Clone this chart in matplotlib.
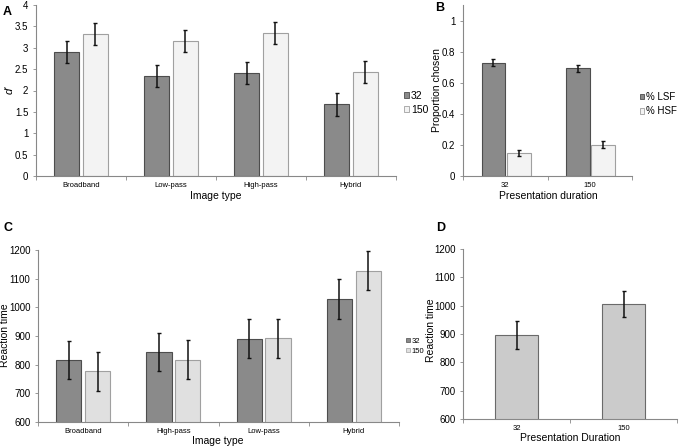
import matplotlib
matplotlib.use("Agg")
import matplotlib.pyplot as plt
from matplotlib.patches import Rectangle
import numpy as np

plt.rcParams['font.family'] = ['Liberation Sans', 'DejaVu Sans']

# Panel A data
a_categories = ["Broadband", "Low-pass", "High-pass", "Hybrid"]
a_32 = [2.90, 2.34, 2.41, 1.68]
a_32_err = [0.26, 0.26, 0.26, 0.27]
a_150 = [3.32, 3.15, 3.35, 2.43]
a_150_err = [0.26, 0.26, 0.26, 0.26]
a_yticks = [0, 0.5, 1, 1.5, 2, 2.5, 3, 3.5, 4]
a_yticklabels = ["0", "0.5", "1", "1.5", "2", "2.5", "3", "3.5", "4"]

# Panel B data
b_categories = ["32", "150"]
b_lsf = [0.729, 0.692]
b_lsf_err = [0.021, 0.021]
b_hsf = [0.148, 0.202]
b_hsf_err = [0.021, 0.023]
b_yticks = [0, 0.2, 0.4, 0.6, 0.8, 1]
b_yticklabels = ["0", "0.2", "0.4", "0.6", "0.8", "1"]

# Panel C data
c_categories = ["Broadband", "High-pass", "Low-pass", "Hybrid"]
c_32 = [817, 845, 891, 1028]
c_32_err = [67, 67, 68, 70]
c_150 = [777, 818, 892, 1128]
c_150_err = [68, 69, 69, 69]
c_yticks = [600, 700, 800, 900, 1000, 1100, 1200]

# Panel D data
d_categories = ["32", "150"]
d_rt = [896, 1006]
d_rt_err = [50, 47]

DARK = "#8a8a8a"
DARK_EDGE = "#4d4d4d"
LIGHT_A = "#f3f3f3"
LIGHT_EDGE = "#a0a0a0"
LIGHT_C = "#e0e0e0"
D_FILL = "#cbcbcb"
D_EDGE = "#6a6a6a"

W, H = 679, 447
fig = plt.figure(figsize=(W / 100, H / 100), dpi=100)


def add_ax(l, r, t, b):
    return fig.add_axes([l / W, 1 - b / H, (r - l) / W, (b - t) / H])


def style(ax, ncat, cats, tick_fs):
    for s in ["top", "right"]:
        ax.spines[s].set_visible(False)
    for s in ["left", "bottom"]:
        ax.spines[s].set_color("#888888")
        ax.spines[s].set_linewidth(0.8)
    ax.set_xlim(0, ncat)
    ax.set_xticks(np.arange(ncat + 1))
    ax.set_xticklabels([""] * (ncat + 1))
    ax.set_xticks(np.arange(ncat) + 0.5, minor=True)
    ax.set_xticklabels(cats, minor=True, fontsize=tick_fs)
    ax.tick_params(axis="x", which="major", length=3, color="#888888", width=0.6)
    ax.tick_params(axis="x", which="minor", length=0, pad=4)
    ax.tick_params(axis="y", length=2.5, color="#888888", width=0.6, labelsize=7, pad=3)


def ylabel_at(ax, text, xr, yc, **kw):
    ax.set_ylabel(text, **kw)
    ax.yaxis.set_label_coords(xr / W, 1 - yc / H, transform=fig.transFigure)


def xlabel_at(ax, text, xc, yt, **kw):
    ax.set_xlabel(text, **kw)
    ax.xaxis.set_label_coords(xc / W, 1 - yt / H, transform=fig.transFigure)


ekw = dict(ecolor="#111111", elinewidth=1.1, capsize=1.5, capthick=1.0)

# ---------- Panel A ----------
axA = add_ax(36, 396, 5, 176)
x = np.arange(len(a_categories)) + 0.5
axA.bar(x - 0.16, a_32, 0.28, color=DARK, edgecolor=DARK_EDGE, linewidth=0.8,
        yerr=a_32_err, error_kw=ekw, zorder=2)
axA.bar(x + 0.16, a_150, 0.28, color=LIGHT_A, edgecolor=LIGHT_EDGE, linewidth=0.8,
        yerr=a_150_err, error_kw=ekw, zorder=2)
axA.set_ylim(0, 4)
axA.set_yticks(a_yticks)
axA.set_yticklabels(a_yticklabels)
style(axA, 4, a_categories, 5.5)
xlabel_at(axA, "Image type", 216, 191, fontsize=7.5)
ylabel_at(axA, "d'", 15, 90, fontsize=8, style="italic")
h1 = Rectangle((0, 0), 1, 1, fc=DARK, ec=DARK_EDGE, lw=0.6)
h2 = Rectangle((0, 0), 1, 1, fc=LIGHT_A, ec=LIGHT_EDGE, lw=0.6)
axA.legend([h1, h2], ["32", "150"], loc="upper left", bbox_to_anchor=(404 / W, 1 - 91 / H),
           bbox_transform=fig.transFigure, frameon=False, fontsize=7.5,
           handlelength=0.45, handleheight=0.45, handletextpad=0.2, labelspacing=0.35,
           borderpad=0, borderaxespad=0)

# ---------- Panel B ----------
axB = add_ax(463, 632, 5, 176)
xb = np.arange(len(b_categories)) + 0.5
axB.bar(xb - 0.14, b_lsf, 0.28, color=DARK, edgecolor=DARK_EDGE, linewidth=0.8,
        yerr=b_lsf_err, error_kw=ekw, zorder=2)
axB.bar(xb + 0.16, b_hsf, 0.28, color=LIGHT_A, edgecolor=LIGHT_EDGE, linewidth=0.8,
        yerr=b_hsf_err, error_kw=ekw, zorder=2)
axB.set_ylim(0, 1.1)
axB.set_yticks(b_yticks)
axB.set_yticklabels(b_yticklabels)
style(axB, 2, b_categories, 5.5)
xlabel_at(axB, "Presentation duration", 548, 191, fontsize=7.5)
ylabel_at(axB, "Proportion chosen", 442, 90, fontsize=7.5)
axB.legend([h1, h2], ["% LSF", "% HSF"], loc="upper left", bbox_to_anchor=(640 / W, 1 - 92 / H),
           bbox_transform=fig.transFigure, frameon=False, fontsize=7,
           handlelength=0.45, handleheight=0.45, handletextpad=0.15, labelspacing=0.45,
           borderpad=0, borderaxespad=0)

# ---------- Panel C ----------
axC = add_ax(38, 399, 250, 422)
xc = np.arange(len(c_categories)) + 0.5
axC.bar(xc - 0.16, c_32, 0.28, color=DARK, edgecolor=DARK_EDGE, linewidth=0.8,
        yerr=c_32_err, error_kw=ekw, zorder=2)
axC.bar(xc + 0.16, c_150, 0.28, color=LIGHT_C, edgecolor=LIGHT_EDGE, linewidth=0.8,
        yerr=c_150_err, error_kw=ekw, zorder=2)
axC.set_ylim(600, 1200)
axC.set_yticks(c_yticks)
style(axC, 4, c_categories, 5.5)
xlabel_at(axC, "Image type", 218, 436, fontsize=7.5)
ylabel_at(axC, "Reaction time", 10, 335, fontsize=7.5)
h3 = Rectangle((0, 0), 1, 1, fc=DARK, ec=DARK_EDGE, lw=0.5)
h4 = Rectangle((0, 0), 1, 1, fc=LIGHT_C, ec=LIGHT_EDGE, lw=0.5)
axC.legend([h3, h4], ["32", "150"], loc="upper left", bbox_to_anchor=(406 / W, 1 - 338 / H),
           bbox_transform=fig.transFigure, frameon=False, fontsize=5.5,
           handlelength=0.5, handleheight=0.5, handletextpad=0.2, labelspacing=0.35,
           borderpad=0, borderaxespad=0)

# ---------- Panel D ----------
axD = add_ax(463, 677, 249, 419)
xd = np.arange(len(d_categories)) + 0.5
axD.bar(xd, d_rt, 0.4, color=D_FILL, edgecolor=D_EDGE, linewidth=0.8,
        yerr=d_rt_err, error_kw=ekw, zorder=2)
axD.set_ylim(600, 1200)
axD.set_yticks(c_yticks)
style(axD, 2, d_categories, 5.5)
xlabel_at(axD, "Presentation Duration", 570, 433, fontsize=7.5)
ylabel_at(axD, "Reaction time", 436, 330, fontsize=7.5)

# Panel letters
for lab, px, py in [("A", 3, 12), ("B", 435, 8), ("C", 4, 228), ("D", 436, 228)]:
    fig.text(px / W, 1 - py / H, lab, fontsize=9, fontweight="bold", va="center", ha="left")

fig.savefig("out.png", dpi=100)
